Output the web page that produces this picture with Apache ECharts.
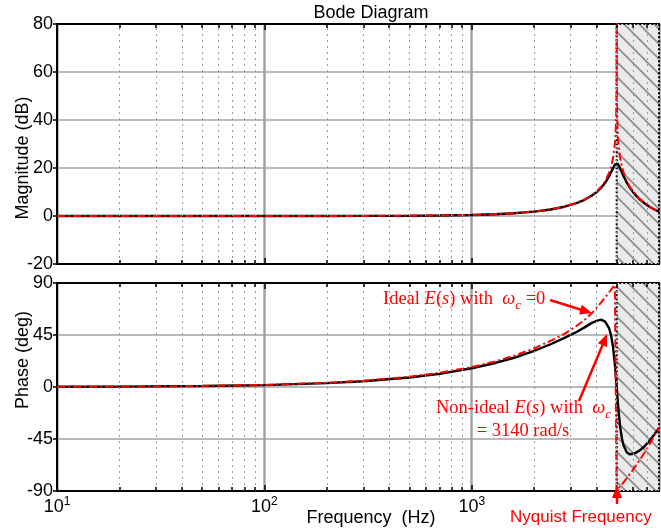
<!DOCTYPE html>
<html><head><meta charset="utf-8">
<script src="https://cdn.jsdelivr.net/npm/echarts@6/dist/echarts.min.js"></script>
<style>html,body{margin:0;padding:0;background:#fff}#c{width:661px;height:530px}</style>
</head><body><div id="c"></div>
<script>
// ---- data ----
const blkF   = [10,20,50,100,200,300,500,700,1000,1300,1600,2000,2400,2800,3200,3500,3800,4000,4200,4400,4600,4700,4800,4900,4950,5000,5050,5100,5200,5300,5400,5600,5800,6000,6200,6500,6800,7200,7600,8000];
const blkMag = [0,0,0,0.01,0.02,0.04,0.11,0.21,0.43,0.74,1.14,1.83,2.72,3.87,5.35,6.76,8.51,9.95,11.69,13.85,16.60,18.21,19.91,21.39,21.85,22.01,21.85,21.39,19.91,18.21,16.60,13.85,11.69,9.95,8.51,6.76,5.35,3.87,2.72,1.83];
const blkPh  = [0.17,0.33,0.83,1.66,3.31,4.97,8.2,11.4,16.2,20.8,25.3,31.3,37.0,42.5,47.6,51.6,55.5,57.3,58.3,56.6,50.7,44.6,34.8,19.8,10.3,0,-10.3,-19.8,-34.8,-44.6,-50.7,-56.6,-58.3,-57.8,-56.8,-54.5,-51.5,-46.5,-41.0,-35.5];

const redMagF = [10,20,50,100,200,300,500,700,1000,1300,1600,2000,2400,2800,3200,3500,3800,4000,4200,4400,4600,4700,4800,4900,4950,4980,4995,4999.8,5000.2,5005,5020,5050,5100,5200,5300,5400,5600,5800,6000,6500,7000,7500,8000];
const redMag  = [0,0,0,0,0.02,0.04,0.11,0.21,0.44,0.75,1.15,1.84,2.75,3.91,5.42,6.86,8.68,10.20,12.09,14.55,18.04,20.53,24.04,30.06,36.08,44.04,56.08,84,84,56.08,44.04,36.08,30.06,24.04,20.53,18.04,14.55,12.09,10.20,6.86,4.62,3.01,1.84];

const redPhF = [10,20,50,100,200,300,500,700,1000,1300,1600,2000,2400,2800,3200,3500,3800,4000,4200,4400,4600,4800,4900,5000,5000.01,5500,6000,6500,7000,7500,8000];
const redPh  = [0.18,0.36,0.9,1.8,3.6,5.4,8.9,12.4,17.2,22.2,27.0,33.5,40.0,46.0,52.8,58.0,64.0,68.5,73.0,77.5,82.0,86.5,88.3,90,-90,-80.5,-71.5,-62.5,-53.5,-44,-35];

const minorF = [20,30,40,50,60,70,80,90,200,300,400,500,600,700,800,900,2000,3000,4000,5000,6000,7000];
const magTicks = {min:-20, max:80, interval:20};
const phTicks  = {min:-90, max:90, interval:45};
const xRange   = {min:10, max:8000};
const nyquistF = 5000;

// ---- styling ----
const SANS = 'Liberation Sans, Arial, sans-serif';
const SERIF = 'Liberation Serif, Times New Roman, serif';
const RED = '#ff0000';

const P = 15;
const pc = document.createElement('canvas');
pc.width = P; pc.height = P;
const cx = pc.getContext('2d');
cx.fillStyle = '#eaeaea'; cx.fillRect(0,0,P,P);
cx.strokeStyle = '#8c8c8c'; cx.lineWidth = 1.6;
cx.beginPath();
cx.moveTo(-3,-3); cx.lineTo(P+3,P+3);
cx.moveTo(-3,P-3); cx.lineTo(3,P+3);
cx.moveTo(P-3,-3); cx.lineTo(P+3,3);
cx.stroke();
const hatch = {image: pc, repeat: 'repeat'};

function pairs(xs, ys){ return xs.map((x,i)=>[x, ys[i]]); }

function xAxisDef(gridIndex, position, withLabels){
  return {
    type:'log', logBase:10, gridIndex, position, min:xRange.min, max:xRange.max,
    axisLine:{show:true, onZero:false, lineStyle:{color:'#000', width:2}},
    axisTick:{show:true, inside:true, length:6, lineStyle:{color:'#000', width:1.5}},
    splitLine:{show: position==='bottom', lineStyle:{color:'#a3a3a3', width:2.5}},
    axisLabel:{
      show: withLabels, showMaxLabel:false, margin:5,
      formatter: v => {
        const e = Math.round(Math.log10(v));
        if (Math.abs(Math.pow(10,e) - v) > 1e-6*v) return '';
        return '{b|10}{s|' + e + '}';
      },
      rich:{
        b:{fontSize:18, fontFamily:SANS, color:'#000', lineHeight:20, verticalAlign:'bottom'},
        s:{fontSize:12, fontFamily:SANS, color:'#000', lineHeight:20, verticalAlign:'top'}
      }
    }
  };
}
function yAxisDef(gridIndex, t){
  return {
    type:'value', gridIndex, min:t.min, max:t.max, interval:t.interval,
    axisLine:{show:true, onZero:false, lineStyle:{color:'#000', width:2}},
    axisTick:{show:true, inside:false, length:4, lineStyle:{color:'#000', width:1.5}},
    splitLine:{show:true, lineStyle:{color:'#a3a3a3', width:1.6}},
    axisLabel:{fontSize:18, fontFamily:SANS, color:'#000', margin:4}
  };
}
function minorMarks(ymin, ymax, tickLen){
  const d = [];
  minorF.forEach(f => {
    d.push({xAxis:f, lineStyle:{color:'#9a9a9a', width:1, type:[2,4]}});
    d.push([{coord:[f, ymax], lineStyle:{color:'#000', width:1.5, type:'solid'}}, {coord:[f, ymax - tickLen]}]);
    d.push([{coord:[f, ymin], lineStyle:{color:'#000', width:1.5, type:'solid'}}, {coord:[f, ymin + tickLen]}]);
  });
  return {silent:true, symbol:['none','none'], label:{show:false}, animation:false, data:d};
}
function hatchArea(){
  return {silent:true, itemStyle:{color:hatch, borderColor:'#000', borderWidth:2, borderType:[2,2]},
          data:[[{xAxis:nyquistF},{xAxis:xRange.max}]]};
}
const redStyle = {color:RED, width:2, type:[8,3,2,3]};
const blkStyle = {color:'#000', width:2.4};

const chart = echarts.init(document.getElementById('c'));
chart.setOption({
  animation:false,
  backgroundColor:'#fff',
  grid:[
    {left:57, top:24, width:602, height:240, show:true, borderColor:'#000', borderWidth:2, backgroundColor:'#fff'},
    {left:57, top:283, width:602, height:208, show:true, borderColor:'#000', borderWidth:2, backgroundColor:'#fff'}
  ],
  xAxis:[ xAxisDef(0,'bottom',false), xAxisDef(0,'top',false), xAxisDef(1,'bottom',true), xAxisDef(1,'top',false) ],
  yAxis:[ yAxisDef(0, magTicks), yAxisDef(1, phTicks) ],
  series:[
    {type:'line', xAxisIndex:0, yAxisIndex:0, data:pairs(blkF, blkMag), showSymbol:false, symbol:'none', lineStyle:blkStyle, z:3,
     markLine:minorMarks(magTicks.min, magTicks.max, 1.7), markArea:hatchArea()},
    {type:'line', xAxisIndex:0, yAxisIndex:0, data:pairs(redMagF, redMag), showSymbol:false, symbol:'none', lineStyle:redStyle, z:4},
    {type:'line', xAxisIndex:2, yAxisIndex:1, data:pairs(blkF, blkPh), showSymbol:false, symbol:'none', lineStyle:blkStyle, z:3,
     markLine:minorMarks(phTicks.min, phTicks.max, 3.5), markArea:hatchArea()},
    {type:'line', xAxisIndex:2, yAxisIndex:1, data:pairs(redPhF, redPh), showSymbol:false, symbol:'none', lineStyle:redStyle, z:4}
  ],
  graphic:[
    {type:'text', x:371, y:13, style:{text:'Bode Diagram', font:'18px '+SANS, fill:'#000', align:'center', verticalAlign:'middle'}},
    {type:'text', x:371, y:518, style:{text:'Frequency  (Hz)', font:'18px '+SANS, fill:'#000', align:'center', verticalAlign:'middle'}},
    {type:'text', x:23, y:158, rotation:Math.PI/2, style:{text:'Magnitude (dB)', font:'18px '+SANS, fill:'#000', align:'center', verticalAlign:'middle'}},
    {type:'text', x:23, y:360, rotation:Math.PI/2, style:{text:'Phase (deg)', font:'18px '+SANS, fill:'#000', align:'center', verticalAlign:'middle'}},
    {type:'text', x:510, y:517, style:{text:'Nyquist Frequency', font:'17px '+SANS, fill:RED, align:'left', verticalAlign:'middle'}},
    {type:'text', x:383, y:301, z:10, style:{
      text:'{a|Ideal }{i|E}{a|(}{i|s}{a|) with  }{i|ω}{c|c}{a| =0}', align:'left', verticalAlign:'middle',
      rich:{
        a:{fontSize:18.5, fontFamily:SERIF, fill:RED, lineHeight:22, verticalAlign:'top'},
        i:{fontSize:18.5, fontFamily:SERIF, fontStyle:'italic', fill:RED, lineHeight:22, verticalAlign:'top'},
        c:{fontSize:13, fontFamily:SERIF, fontStyle:'italic', fill:RED, lineHeight:22, verticalAlign:'bottom'}
      }}},
    {type:'text', x:436, y:410, z:10, style:{
      text:'{a|Non-ideal }{i|E}{a|(}{i|s}{a|) with  }{i|ω}{c|c}', align:'left', verticalAlign:'middle',
      rich:{
        a:{fontSize:18.5, fontFamily:SERIF, fill:RED, lineHeight:22, verticalAlign:'top'},
        i:{fontSize:18.5, fontFamily:SERIF, fontStyle:'italic', fill:RED, lineHeight:22, verticalAlign:'top'},
        c:{fontSize:13, fontFamily:SERIF, fontStyle:'italic', fill:RED, lineHeight:22, verticalAlign:'bottom'}
      }}},
    {type:'text', x:523, y:431, z:10, style:{text:'= 3140 rad/s', font:'18.5px '+SERIF, fill:RED, align:'center', verticalAlign:'middle'}},
    // arrows
    {type:'line', z:10, shape:{x1:550, y1:300, x2:582, y2:310}, style:{stroke:RED, lineWidth:2.5}},
    {type:'polygon', z:10, shape:{points:[[592,313],[579.1,314.4],[581.9,304.8]]}, style:{fill:RED}},
    {type:'line', z:10, shape:{x1:579, y1:401, x2:603, y2:344}, style:{stroke:RED, lineWidth:2.5}},
    {type:'polygon', z:10, shape:{points:[[607,334],[607.0,347.0],[597.8,343.2]]}, style:{fill:RED}},
    {type:'line', z:10, shape:{x1:617, y1:504, x2:617, y2:496}, style:{stroke:RED, lineWidth:2.5}},
    {type:'polygon', z:10, shape:{points:[[617,485],[612,498],[622,498]]}, style:{fill:RED}}
  ]
});
</script>
</body></html>
